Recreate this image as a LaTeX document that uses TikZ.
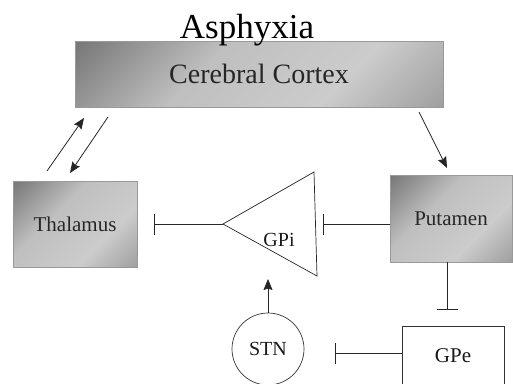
\documentclass[tikz,border=0pt]{standalone}
\usepackage{fontspec}
\setmainfont{Liberation Serif}
\usetikzlibrary{arrows.meta}

\pgfdeclarehorizontalshading{greybox}{100bp}{color(0bp)=(black!70); color(40bp)=(black!25); color(65bp)=(black!20); color(100bp)=(black!50)}

\tikzset{
  region/.style={draw=black!40, shading=greybox, shading angle=-45, inner sep=0pt, text=black!85},
  plain/.style={draw=black!80, line width=0.7pt, fill=white, inner sep=0pt, text=black!90},
  conn/.style={draw=black!85, line width=0.8pt},
  excit/.style={conn, -{Stealth[length=11pt, width=9pt, inset=1.5pt]}},
  inhib/.style={conn, -{Bar[width=21pt]}}
}

\newcommand{\fs}[1]{\fontsize{#1}{#1}\selectfont}

\begin{document}
\begin{tikzpicture}[x=1pt, y=-1pt]
\useasboundingbox (0,0) rectangle (513,383);

\node[region, minimum width=368pt, minimum height=66pt, font=\fs{28}] (cortex) at (259,74) {Cerebral Cortex};
\node[anchor=base, font=\fs{35}] (title) at (247,38) {Asphyxia};

\node[region, minimum width=124pt, minimum height=86pt, font=\fs{21}] (thalamus) at (75,224) {Thalamus};
\node[region, minimum width=122pt, minimum height=87pt, font=\fs{21}] (putamen) at (451,218.5) {Putamen};

\node[plain, minimum width=102pt, minimum height=60pt, font=\fs{21}] (gpe) at (453,356) {GPe};
\node[plain, circle, minimum size=72pt, font=\fs{20}] (stn) at (268,349) {STN};

\coordinate (gpiTip) at (223,224);
\coordinate (gpiTop) at (314,172);
\coordinate (gpiBot) at (317,276);
\draw[conn, line width=0.7pt] (gpiTip) -- (gpiTop) -- (gpiBot) -- cycle;
\node[anchor=base, font=\fs{20}, text=black!90] (gpi) at (279,246) {GPi};

\coordinate (thalUp) at (47,171);
\coordinate (cortUp) at (84,118);
\coordinate (cortDown) at (108,117);
\coordinate (thalDown) at (70,173);
\coordinate (cortRight) at (419,112);
\coordinate (putTop) at (447,168);
\draw[excit] (thalUp) -- (cortUp);
\draw[excit] (cortDown) -- (thalDown);
\draw[excit] (cortRight) -- (putTop);

\coordinate (gpiBar) at (323,224);
\coordinate (thalBar) at (154,224);
\coordinate (gpeBar) at (447,310);
\coordinate (stnBar) at (335,353);
\coordinate (gpiBase) at (268,279);
\draw[inhib] (putamen.west |- gpiBar) -- (gpiBar);
\draw[inhib] (gpiTip) -- (thalBar);
\draw[inhib] (putamen.south -| gpeBar) -- (gpeBar);
\draw[inhib] (gpe.west |- stnBar) -- (stnBar);
\draw[excit] (stn.north) -- (gpiBase);

\end{tikzpicture}
\end{document}
